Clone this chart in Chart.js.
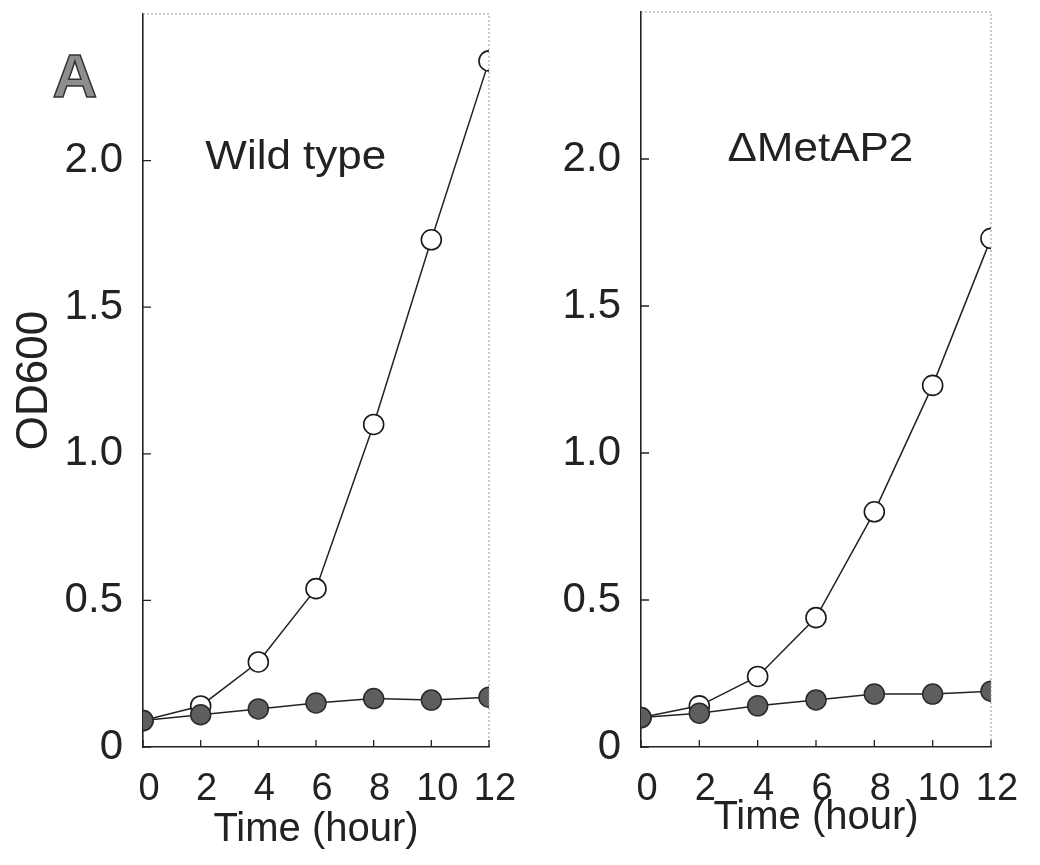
<!DOCTYPE html>
<html>
<head>
<meta charset="utf-8">
<script src="https://cdn.jsdelivr.net/npm/chart.js@4.4.1/dist/chart.umd.min.js"></script>
<style>
  html, body { margin: 0; padding: 0; background: #ffffff; }
  #wrap { position: relative; width: 1040px; height: 865px; background: #ffffff; }
  canvas { position: absolute; top: 0; }
  #c1 { left: 0; }
  #c2 { left: 520px; }
</style>
</head>
<body>
<div id="wrap">
  <canvas id="c1" width="520" height="865"></canvas>
  <canvas id="c2" width="520" height="865"></canvas>
</div>
<script>
// ---- data ----
const timeHours = [0, 2, 4, 6, 8, 10, 12];
const xTickValues = [0, 2, 4, 6, 8, 10, 12];
const yTickValues = [0, 0.5, 1.0, 1.5, 2.0];
const yTickLabels = ['0', '0.5', '1.0', '1.5', '2.0'];

// Wild type
const wtOpen   = [0.09, 0.14, 0.29, 0.54, 1.10, 1.73, 2.34];
const wtFilled = [0.09, 0.11, 0.13, 0.15, 0.165, 0.16, 0.17];
// ΔMetAP2
const mapOpen   = [0.10, 0.14, 0.24, 0.44, 0.80, 1.23, 1.73];
const mapFilled = [0.10, 0.115, 0.14, 0.16, 0.18, 0.18, 0.19];

const panelNames = ['Wild type', '\u0394MetAP2'];
const xTitle = 'Time (hour)';
const yTitle = 'OD600';
const panelLetter = 'A';

const FONT = '"Liberation Sans", Arial, Helvetica, sans-serif';
const INK = '#222222';

function pts(vals) { return timeHours.map((t, i) => ({ x: t, y: vals[i] })); }

const framePlugin = {
  id: 'frame',
  afterDraw(chart, args, opts) {
    const { ctx, chartArea: { left, right, top, bottom }, scales: { x, y } } = chart;
    ctx.save();
    // top & right light borders
    ctx.strokeStyle = '#9a9a9a';
    ctx.lineWidth = 1;
    ctx.setLineDash([2, 2]);
    ctx.beginPath();
    ctx.moveTo(left, top); ctx.lineTo(right, top); ctx.lineTo(right, bottom);
    ctx.stroke();
    ctx.setLineDash([]);
    // inward ticks
    ctx.strokeStyle = INK;
    ctx.lineWidth = 1.3;
    ctx.beginPath();
    x.ticks.forEach(t => {
      const px = x.getPixelForValue(t.value);
      ctx.moveTo(px, bottom); ctx.lineTo(px, bottom - 7);
    });
    y.ticks.forEach(t => {
      const py = y.getPixelForValue(t.value);
      ctx.moveTo(left, py); ctx.lineTo(left + 8, py);
    });
    ctx.stroke();
    // panel name
    if (opts.name) {
      const px = x.getPixelForValue(opts.nameAt[0]);
      const py = y.getPixelForValue(opts.nameAt[1]);
      ctx.fillStyle = INK;
      ctx.font = '40px ' + FONT;
      ctx.textAlign = 'center';
      ctx.textBaseline = 'middle';
      ctx.translate(px, py);
      ctx.scale(1.1, 1);
      ctx.fillText(opts.name, 0, 0);
      ctx.setTransform(1, 0, 0, 1, 0, 0);
    }
    // panel letter
    if (opts.letter) {
      ctx.font = 'bold 62px ' + FONT;
      ctx.textAlign = 'center';
      ctx.textBaseline = 'alphabetic';
      ctx.fillStyle = '#8e8e8e';
      ctx.strokeStyle = '#333333';
      ctx.lineWidth = 1.5;
      ctx.fillText(opts.letter, 75, 97);
      ctx.strokeText(opts.letter, 75, 97);
    }
    ctx.restore();
  }
};

function zeroPad(s) {
  s.paddingTop = 0; s.paddingBottom = 0; s.paddingLeft = 0; s.paddingRight = 0;
}

function makeChart(canvasId, openVals, filledVals, cfg) {
  return new Chart(document.getElementById(canvasId), {
    type: 'line',
    data: {
      datasets: [
        {
          label: 'filled',
          data: pts(filledVals),
          borderColor: INK,
          borderWidth: 1.5,
          backgroundColor: '#5e5e5e',
          pointBackgroundColor: '#5e5e5e',
          pointBorderColor: '#2a2a2a',
          pointBorderWidth: 1.5,
          pointRadius: 10,
          tension: 0,
          fill: false
        },
        {
          label: 'open',
          data: pts(openVals),
          borderColor: INK,
          borderWidth: 1.5,
          backgroundColor: '#ffffff',
          pointBackgroundColor: '#ffffff',
          pointBorderColor: '#1a1a1a',
          pointBorderWidth: 1.6,
          pointRadius: 10,
          tension: 0,
          fill: false
        }
      ]
    },
    options: {
      responsive: false,
      animation: false,
      events: [],
      layout: { autoPadding: false, padding: { left: 0, top: cfg.top, right: cfg.right, bottom: 0 } },
      plugins: {
        legend: { display: false },
        tooltip: { enabled: false },
        frame: { name: cfg.name, nameAt: cfg.nameAt, letter: cfg.letter }
      },
      scales: {
        x: {
          type: 'linear',
          position: 'bottom',
          min: 0,
          max: 12,
          afterFit(s) { s.height = 118; zeroPad(s); },
          afterBuildTicks(s) { s.ticks = xTickValues.map(v => ({ value: v })); },
          grid: { display: false, drawTicks: false },
          border: { display: true, color: INK, width: 1.6 },
          ticks: {
            color: INK,
            font: { family: FONT, size: 38 },
            padding: 20,
            labelOffset: 6,
            maxRotation: 0,
            autoSkip: false,
            callback: (v) => String(v)
          },
          title: {
            display: true,
            text: xTitle,
            color: INK,
            font: { family: FONT, size: 40 },
            padding: { top: 0, bottom: cfg.xTitlePad }
          }
        },
        y: {
          type: 'linear',
          position: 'left',
          min: 0,
          max: 2.5,
          afterFit(s) { s.width = cfg.yWidth; zeroPad(s); },
          afterBuildTicks(s) { s.ticks = yTickValues.map(v => ({ value: v })); },
          grid: { display: false, drawTicks: false },
          border: { display: true, color: INK, width: 1.6 },
          ticks: {
            color: INK,
            font: { family: FONT, size: 42 },
            padding: 20,
            autoSkip: false,
            callback: (v, i) => yTickLabels[i]
          },
          title: {
            display: cfg.showYTitle,
            text: yTitle,
            color: INK,
            font: { family: FONT, size: 44 },
            padding: { top: 8, bottom: 0 }
          }
        }
      }
    },
    plugins: [framePlugin]
  });
}

makeChart('c1', wtOpen, wtFilled, {
  top: 14, right: 31, yWidth: 143, showYTitle: true,
  name: panelNames[0], nameAt: [5.3, 2.01], letter: panelLetter, xTitlePad: 11
});
makeChart('c2', mapOpen, mapFilled, {
  top: 12, right: 49, yWidth: 121, showYTitle: false,
  name: panelNames[1], nameAt: [6.15, 2.03], letter: null, xTitlePad: 23
});
</script>
</body>
</html>
